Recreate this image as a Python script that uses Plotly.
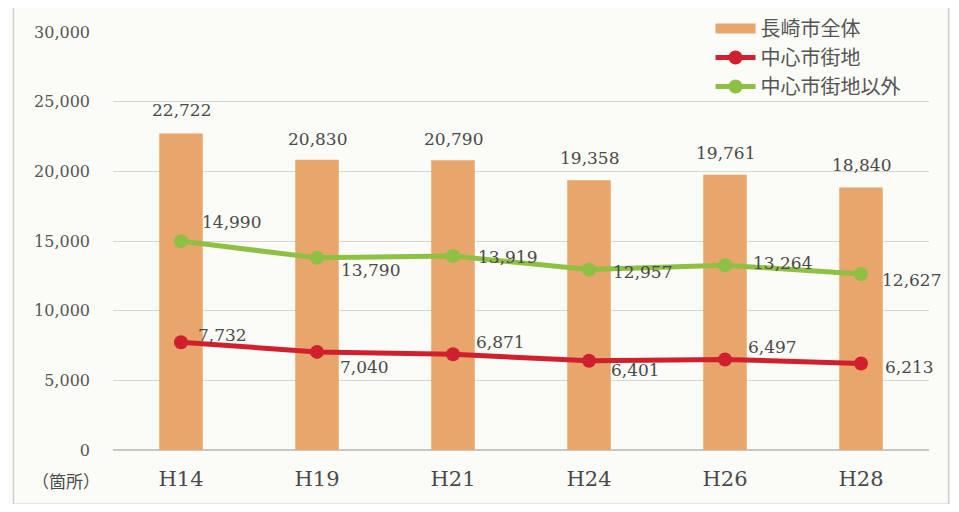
import plotly.graph_objects as go

categories = ["H14", "H19", "H21", "H24", "H26", "H28"]
total = [22722, 20830, 20790, 19358, 19761, 18840]
center = [7732, 7040, 6871, 6401, 6497, 6213]
outside = [14990, 13790, 13919, 12957, 13264, 12627]
y_ticks = [0, 5000, 10000, 15000, 20000, 25000, 30000]

names = ["長崎市全体", "中心市街地", "中心市街地以外"]

BAR = "#E8A56C"
RED = "#D0202E"
GREEN = "#8DC043"
TXT = "#4a4a4a"
NUMFONT = "DejaVu Serif"
CJK = "Noto Sans CJK JP"

fig = go.Figure()
fig.add_trace(go.Bar(x=categories, y=total, name=names[0], marker_color=BAR,
                     width=0.32, marker_line_width=0, showlegend=False))
# legend-only sample for the bar series (wide swatch like the original)
fig.add_trace(go.Scatter(x=[categories[0]], y=[None], name=names[0], mode="lines",
                         line=dict(color=BAR, width=13), showlegend=True))
fig.add_trace(go.Scatter(x=categories, y=center, name=names[1], mode="lines+markers",
                         line=dict(color=RED, width=5), marker=dict(size=14, color=RED)))
fig.add_trace(go.Scatter(x=categories, y=outside, name=names[2], mode="lines+markers",
                         line=dict(color=GREEN, width=5), marker=dict(size=14, color=GREEN)))

fmt = lambda v: f"{v:,}"
annos = []
bar_shift = [23, 21, 21, 22, 22, 23]
for c, v, s in zip(categories, total, bar_shift):
    annos.append(dict(x=c, y=v, text=fmt(v), showarrow=False, yshift=s, xshift=0,
                      font=dict(family=NUMFONT, size=17, color=TXT)))
green_off = [(50, 19), (53, -12), (54, -1), (53, -3), (57, 2), (50, -6)]
for c, v, (dx, dy) in zip(categories, outside, green_off):
    annos.append(dict(x=c, y=v, text=fmt(v), showarrow=False, xshift=dx, yshift=dy,
                      font=dict(family=NUMFONT, size=17, color=TXT)))
red_off = [(41, 7), (47, -15), (47, 12), (46, -9), (47, 12), (48, -4)]
for c, v, (dx, dy) in zip(categories, center, red_off):
    annos.append(dict(x=c, y=v, text=fmt(v), showarrow=False, xshift=dx, yshift=dy,
                      font=dict(family=NUMFONT, size=17, color=TXT)))
annos.append(dict(xref="paper", yref="paper", x=-0.057, y=-0.072, text="（箇所）",
                  showarrow=False, xanchor="center", yanchor="middle",
                  font=dict(family=CJK, size=17, color=TXT)))

fig.update_layout(
    width=943, height=496,
    margin=dict(l=105, r=22, t=24, b=54, autoexpand=False),
    paper_bgcolor="#FBFBF7", plot_bgcolor="#FBFBF7",
    bargap=0.68,
    showlegend=True,
    legend=dict(xref="container", yref="container", x=0.745, y=0.998,
                xanchor="left", yanchor="top",
                bgcolor="rgba(0,0,0,0)", font=dict(family=CJK, size=20, color="#555"),
                itemwidth=40, tracegroupgap=0, traceorder="normal"),
    xaxis=dict(type="category", range=[-0.5, 5.5], tickfont=dict(family=NUMFONT, size=21, color=TXT),
               showgrid=False, ticks="", showline=False, ticklabelstandoff=14),
    yaxis=dict(range=[0, 30000], tickvals=y_ticks, tickformat=",d",
               tickfont=dict(family=NUMFONT, size=16, color="#555"),
               showgrid=True, gridcolor="#D6D6CE", gridwidth=1,
               zeroline=True, zerolinecolor="#C8C8C0", zerolinewidth=1.5,
               showline=False, ticks="", ticklabelstandoff=22),
    annotations=annos,
    shapes=[dict(type="rect", xref="paper", yref="paper",
                 x0=-0.122, x1=1.024, y0=-0.13, y1=1.06,
                 line=dict(color="#D0D0C8", width=1.5), fillcolor="rgba(0,0,0,0)",
                 layer="below")],
)

fig.write_html("out.html")
